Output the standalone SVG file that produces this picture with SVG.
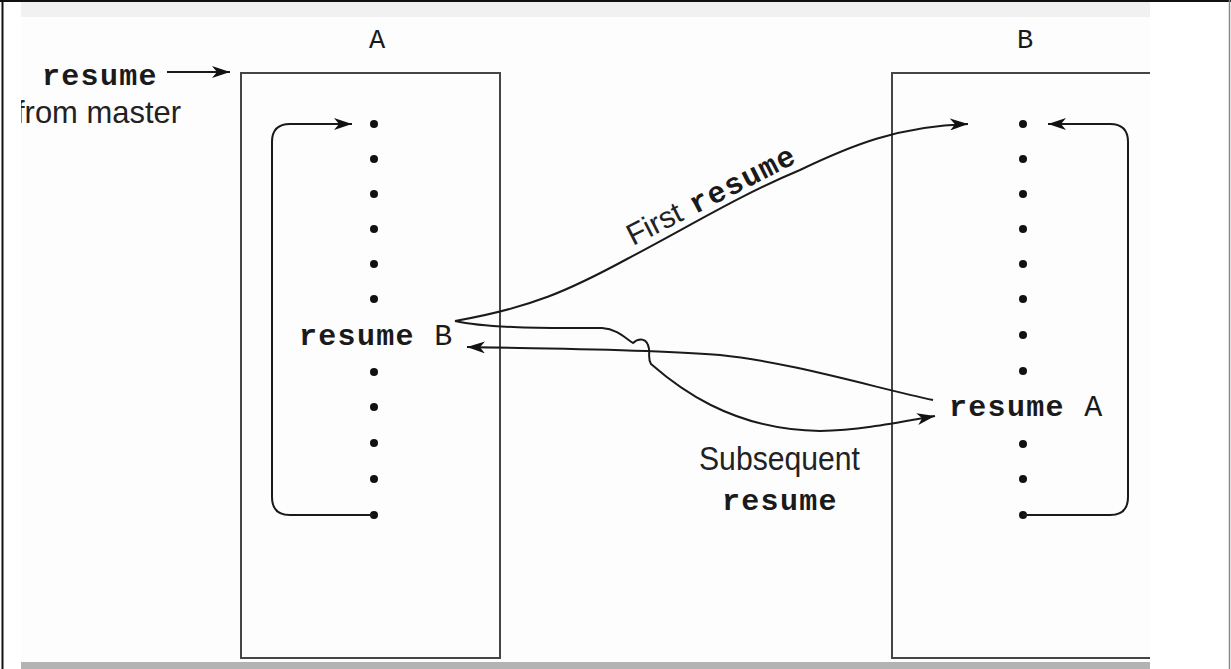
<svg xmlns="http://www.w3.org/2000/svg" width="1231" height="669" viewBox="0 0 1231 669">
  <defs>
    <style>
      .mono { font-family: "Liberation Mono", "DejaVu Sans Mono", monospace; fill: #1a1a1a; }
      .code { font-family: "Liberation Mono", "DejaVu Sans Mono", monospace; font-weight: bold; font-size: 30px; letter-spacing: 1.3px; fill: #1a1a1a; }
      .sans { font-family: "Liberation Sans", Arial, sans-serif; fill: #222; }
      .box { fill: none; stroke: #454545; stroke-width: 2; }
      .wire { fill: none; stroke: #1a1a1a; stroke-width: 2; }
      .dot { fill: #111; }
    </style>
    <marker id="head" markerUnits="userSpaceOnUse" markerWidth="20" markerHeight="12" refX="18" refY="6" orient="auto">
      <path d="M0,0 L18,6 L0,12 L5,6 z" fill="#111"/>
    </marker>
    <clipPath id="pane">
      <rect x="21" y="2" width="1129" height="667"/>
    </clipPath>
  </defs>

  <!-- page frame -->
  <rect x="0" y="0" width="1231" height="669" fill="#fff"/>
  <rect x="21" y="2" width="1129" height="660" fill="#fdfdfd"/>
  <rect x="21" y="2" width="1129" height="15" fill="#f1f1f1"/>
  <rect x="21" y="662" width="1129" height="7" fill="#b3b3b3"/>
  <line x1="0" y1="1" x2="1231" y2="1" stroke="#111" stroke-width="2"/>
  <line x1="2.5" y1="0" x2="2.5" y2="669" stroke="#111" stroke-width="2"/>
  <line x1="1229.5" y1="0" x2="1229.5" y2="669" stroke="#888" stroke-width="1.5"/>

  <g clip-path="url(#pane)">
    <!-- entry label -->
    <g id="master">
      <text class="code" x="42" y="85">resume</text>
      <text class="sans" x="16" y="123" font-size="32" textLength="165" lengthAdjust="spacingAndGlyphs">from master</text>
    </g>

    <!-- coroutine A -->
    <g id="coroutine-A">
      <text class="mono" x="377" y="48" font-size="27" text-anchor="middle">A</text>
      <rect class="box" x="241" y="73" width="259" height="585"/>
      <circle class="dot" cx="374" cy="124" r="4"/>
      <circle class="dot" cx="374" cy="159" r="4"/>
      <circle class="dot" cx="374" cy="194" r="4"/>
      <circle class="dot" cx="374" cy="229" r="4"/>
      <circle class="dot" cx="374" cy="264" r="4"/>
      <circle class="dot" cx="374" cy="299" r="4"/>
      <text class="code" x="299" y="345">resume<tspan font-weight="normal"> B</tspan></text>
      <circle class="dot" cx="374" cy="372" r="4"/>
      <circle class="dot" cx="374" cy="407" r="4"/>
      <circle class="dot" cx="374" cy="443" r="4"/>
      <circle class="dot" cx="374" cy="479" r="4"/>
      <circle class="dot" cx="374" cy="515" r="4"/>
    </g>

    <!-- coroutine B -->
    <g id="coroutine-B">
      <text class="mono" x="1025" y="48" font-size="27" text-anchor="middle">B</text>
      <rect class="box" x="892" y="73" width="300" height="585"/>
      <circle class="dot" cx="1023" cy="124" r="4"/>
      <circle class="dot" cx="1023" cy="159" r="4"/>
      <circle class="dot" cx="1023" cy="194" r="4"/>
      <circle class="dot" cx="1023" cy="229" r="4"/>
      <circle class="dot" cx="1023" cy="264" r="4"/>
      <circle class="dot" cx="1023" cy="299" r="4"/>
      <circle class="dot" cx="1023" cy="335" r="4"/>
      <circle class="dot" cx="1023" cy="371" r="4"/>
      <text class="code" x="949" y="416">resume<tspan font-weight="normal"> A</tspan></text>
      <circle class="dot" cx="1023" cy="444" r="4"/>
      <circle class="dot" cx="1023" cy="479" r="4"/>
      <circle class="dot" cx="1023" cy="515" r="4"/>
    </g>

    <!-- transfers of control -->
    <g id="connectors">
      <line class="wire" x1="167" y1="72" x2="230" y2="72" marker-end="url(#head)"/>
      <path class="wire" d="M374,515 L290,515 Q272,515 272,497 L272,142 Q272,124 290,124 L352,124" marker-end="url(#head)"/>
      <path class="wire" d="M1023,515 L1110,515 Q1128,515 1128,497 L1128,142 Q1128,124 1110,124 L1048,124" marker-end="url(#head)"/>
      <path class="wire" d="M455,321 C530,308 570,290 627,259 C690,226 740,195 800,170 C850,146 898,126 968,124" marker-end="url(#head)"/>
      <path class="wire" d="M455,321 C490,329 560,328 602,328 C618,329 626,339 633,343 C637,339 645,337 648,345 C651,352 647,358 651,364 C675,385 730,430 820,431 C862,430 900,422 935,416" marker-end="url(#head)"/>
      <path class="wire" d="M933,400 C880,389 790,362 720,355 C650,349 560,349 467,347" marker-end="url(#head)"/>
    </g>

    <!-- connector labels -->
    <g id="label-first">
      <g transform="translate(633,246) rotate(-27)">
        <text class="sans" x="0" y="0" font-size="30">First</text>
        <text class="code" x="70" y="0">resume</text>
      </g>
    </g>
    <g id="label-subsequent">
      <text class="sans" x="699" y="470" font-size="34" textLength="161" lengthAdjust="spacingAndGlyphs">Subsequent</text>
      <text class="code" x="722" y="510">resume</text>
    </g>
  </g>
</svg>
